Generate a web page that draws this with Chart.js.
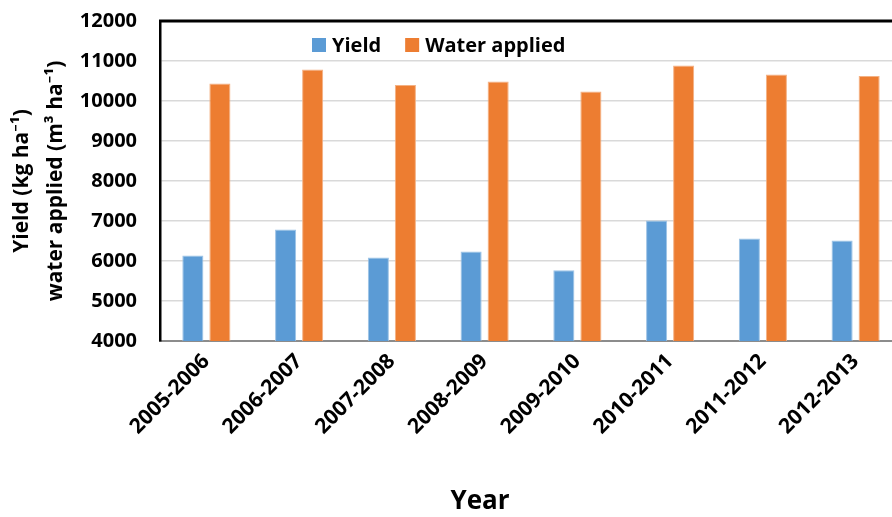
<!DOCTYPE html>
<html>
<head>
<meta charset="utf-8">
<script src="https://cdn.jsdelivr.net/npm/chart.js@4"></script>
<style>
  html, body { margin: 0; padding: 0; background: #fff; overflow: hidden; width: 892px; height: 517px; }
  #wrap { position: absolute; left: 0; top: 0; width: 904px; height: 517px; }
</style>
</head>
<body>
<div id="wrap"><canvas id="c" width="904" height="517"></canvas></div>
<script>
const categories = ['2005-2006', '2006-2007', '2007-2008', '2008-2009', '2009-2010', '2010-2011', '2011-2012', '2012-2013'];
const yieldValues = [6135, 6790, 6090, 6240, 5770, 7015, 6565, 6515];
const waterValues = [10435, 10785, 10400, 10490, 10240, 10890, 10660, 10625];
const seriesNames = ['Yield', 'Water applied'];
const yMin = 4000, yMax = 12000, yStep = 1000;
const yTitle = ['Yield (kg ha\u207B\u00B9)', 'water applied (m\u00B3 ha\u207B\u00B9)'];
const xTitle = 'Year';

const FONT = "'Open Sans', 'Noto Sans', sans-serif";

const framePlugin = {
  id: 'frame',
  afterLayout(chart) {
    const t = chart.titleBlock;
    if (t) { t.left += 29; t.right += 29; }
  },
  afterDraw(chart) {
    const ctx = chart.ctx, a = chart.chartArea;
    ctx.save();
    ctx.strokeStyle = '#000';
    ctx.lineWidth = 3;
    ctx.beginPath();
    ctx.moveTo(a.left - 1, a.top);
    ctx.lineTo(a.right, a.top);
    ctx.stroke();
    ctx.font = "bold 20px " + FONT;
    ctx.textBaseline = 'middle';
    ctx.textAlign = 'left';
    let x = a.left + 152;
    const y = a.top + 24;
    chart.data.datasets.forEach((ds) => {
      ctx.fillStyle = ds.backgroundColor;
      ctx.fillRect(x, y - 7, 14, 14);
      x += 20;
      ctx.fillStyle = '#000';
      ctx.fillText(ds.label, x, y + 1);
      x += ctx.measureText(ds.label).width + 24;
    });
    ctx.restore();
  }
};

new Chart(document.getElementById('c'), {
  type: 'bar',
  data: {
    labels: categories,
    datasets: [
      { label: seriesNames[0], data: yieldValues, backgroundColor: '#5B9BD5', borderColor: '#9DC3E6', borderWidth: 1,
        categoryPercentage: 0.583, barPercentage: 0.78 },
      { label: seriesNames[1], data: waterValues, backgroundColor: '#ED7D31', borderColor: '#F4B183', borderWidth: 1,
        categoryPercentage: 0.583, barPercentage: 0.78 }
    ]
  },
  options: {
    responsive: false,
    devicePixelRatio: 1,
    animation: false,
    layout: { padding: { top: 21, left: 0, right: 2, bottom: 0 } },
    plugins: {
      legend: { display: false },
      tooltip: { enabled: false },
      title: {
        display: true,
        position: 'bottom',
        text: xTitle,
        color: '#000',
        font: { family: FONT, size: 26, weight: 'bold', lineHeight: 1.2 },
        padding: { top: 0, bottom: 0 }
      }
    },
    scales: {
      x: {
        grid: { display: false, drawTicks: false },
        border: { display: true, color: '#8c8c8c', width: 2 },
        ticks: {
          color: '#000',
          font: { family: FONT, size: 21, weight: 'bold' },
          minRotation: 45, maxRotation: 45,
          padding: 8
        },
        afterFit(scale) { scale.height = 144.8; }
      },
      y: {
        min: yMin, max: yMax,
        grid: { color: '#d9d9d9', lineWidth: 1.5, drawTicks: false },
        border: { display: true, color: '#000', width: 2.5 },
        ticks: {
          stepSize: yStep,
          color: '#000',
          font: { family: FONT, size: 20, weight: 'bold' },
          padding: 23,
          callback: (v) => String(v)
        },
        title: {
          display: true,
          text: yTitle,
          color: '#000',
          font: { family: FONT, size: 21, weight: 'bold', lineHeight: 1.62 },
          padding: { top: 5, bottom: 0 }
        },
        afterFit(scale) { scale.width = 160; scale.paddingTop = 0; scale.paddingBottom = 0; }
      }
    }
  },
  plugins: [framePlugin]
});
</script>
</body>
</html>
